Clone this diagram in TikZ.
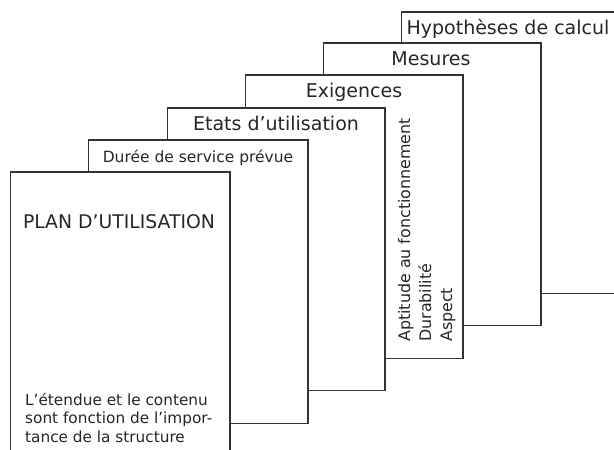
\documentclass[tikz,border=0pt]{standalone}
\usepackage{fontspec}
\setmainfont{DejaVu Sans}
\begin{document}
\begin{tikzpicture}[x=1pt,y=-1pt,
  card/.style={draw=black!80,fill=white,line width=0.9pt},
  rim/.style={draw=black!80,line width=2.4pt},
  title/.style={anchor=base,inner sep=0pt,text=black!85,font=\fontsize{19}{23}\selectfont},
  small/.style={inner sep=0pt,text=black!85,font=\fontsize{15.3}{18.5}\selectfont},
  side/.style={small,font=\fontsize{15.9}{20}\selectfont,rotate=90,anchor=base west}]
\useasboundingbox (0,0) rectangle (614,450);
\clip (0,0) rectangle (614,450);

\draw[card] (401,12) rectangle (621,293);
\draw[rim] (401,12) -- (621,12) -- (621,293);
\node[title] (hyp) at (508,34) {Hypothèses de calcul};

\draw[card] (323,43) rectangle (541,325);
\draw[rim] (323,43) -- (541,43) -- (541,325);
\node[title] (mes) at (431,65) {Mesures};

\draw[card] (245,75) rectangle (463,358);
\draw[rim] (245,75) -- (463,75) -- (463,358);
\node[title] (exig) at (354,97) {Exigences};
\node[side] (apt) at (410,342) {Aptitude au fonctionnement};
\node[side] (dur) at (431,342) {Durabilité};
\node[side] (asp) at (452,342) {Aspect};

\draw[card] (167,108) rectangle (385,390);
\draw[rim] (167,108) -- (385,108) -- (385,390);
\node[title] (etats) at (276,130) {Etats d'utilisation};

\draw[card] (88,140) rectangle (308,423);
\draw[rim] (88,140) -- (308,140) -- (308,423);
\node[title,font=\fontsize{15.5}{19}\selectfont] (duree) at (198,162) {Durée de service prévue};

\draw[card] (10,172) rectangle (230,456);
\draw[rim] (10,172) -- (230,172) -- (230,456);
\node[title,font=\fontsize{18.8}{23}\selectfont] (plan) at (119,228) {PLAN D'UTILISATION};
\node[small,align=left,anchor=base west] (note) at (25,442) {L'étendue et le contenu\\sont fonction de l'impor-\\tance de la structure};
\end{tikzpicture}
\end{document}
